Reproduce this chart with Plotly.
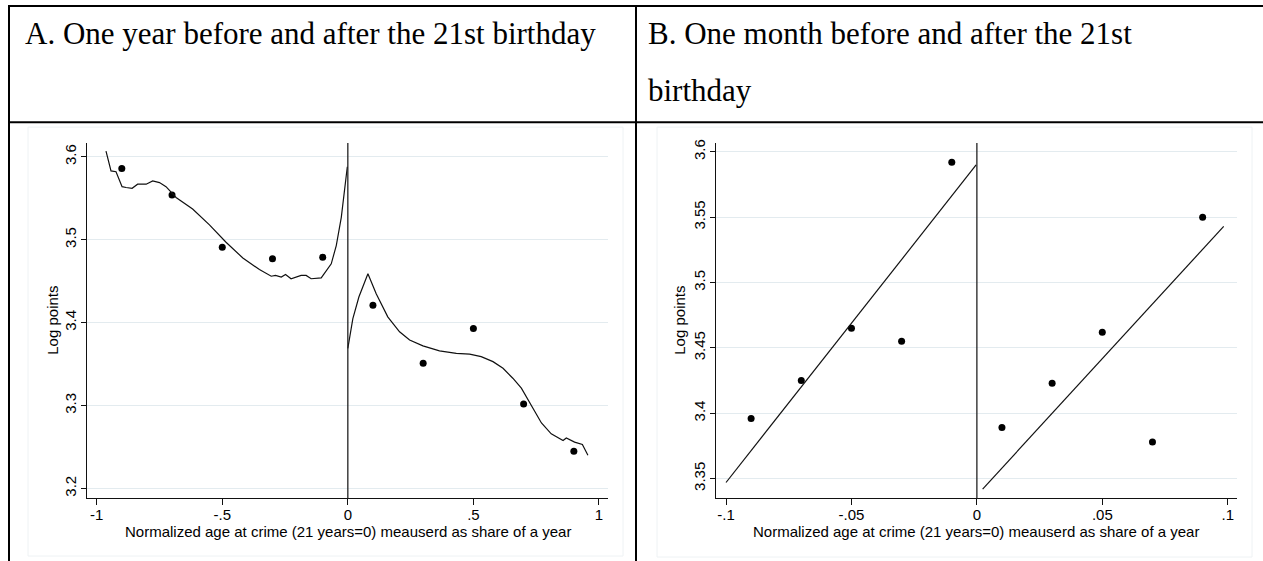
import plotly.graph_objects as go

W, H = 1263, 561

# ---------------- data ----------------
a_bin_x = [-0.9, -0.7, -0.5, -0.3, -0.1, 0.1, 0.3, 0.5, 0.7, 0.9]
a_bin_y = [3.586, 3.554, 3.491, 3.477, 3.479, 3.421, 3.351, 3.393, 3.302, 3.245]

a_fit_left_x = [-0.963, -0.943, -0.923, -0.899, -0.883, -0.859, -0.837, -0.803, -0.777, -0.750,
                -0.724, -0.704, -0.684, -0.618, -0.551, -0.485, -0.418, -0.352, -0.305, -0.288,
                -0.265, -0.248, -0.226, -0.186, -0.166, -0.146, -0.106, -0.066, -0.046, -0.026,
                -0.013, -0.002]
a_fit_left_y = [3.607, 3.583, 3.582, 3.564, 3.563, 3.562, 3.567, 3.567, 3.571, 3.569,
                3.564, 3.557, 3.551, 3.537, 3.518, 3.497, 3.478, 3.464, 3.456, 3.457,
                3.455, 3.458, 3.453, 3.457, 3.457, 3.453, 3.454, 3.471, 3.493, 3.527,
                3.559, 3.588]
a_fit_right_x = [0.0, 0.020, 0.044, 0.080, 0.113, 0.159, 0.206, 0.246, 0.299, 0.365,
                 0.432, 0.485, 0.531, 0.578, 0.618, 0.657, 0.691, 0.724, 0.771, 0.810,
                 0.857, 0.870, 0.903, 0.934, 0.956]
a_fit_right_y = [3.369, 3.405, 3.431, 3.459, 3.435, 3.407, 3.389, 3.379, 3.372, 3.366,
                 3.363, 3.362, 3.359, 3.353, 3.345, 3.333, 3.321, 3.303, 3.279, 3.266,
                 3.258, 3.261, 3.256, 3.253, 3.240]

b_bin_x = [-0.09, -0.07, -0.05, -0.03, -0.01, 0.01, 0.03, 0.05, 0.07, 0.09]
b_bin_y = [3.396, 3.425, 3.465, 3.455, 3.592, 3.389, 3.423, 3.462, 3.378, 3.550]
b_fit_left_x = [-0.100, -0.0003]
b_fit_left_y = [3.347, 3.590]
b_fit_right_x = [0.0023, 0.0984]
b_fit_right_y = [3.342, 3.543]

a_xticks = [-1, -0.5, 0, 0.5, 1]
a_xticktext = ["-1", "-.5", "0", ".5", "1"]
a_yticks = [3.2, 3.3, 3.4, 3.5, 3.6]
a_yticktext = ["3.2", "3.3", "3.4", "3.5", "3.6"]
b_xticks = [-0.1, -0.05, 0, 0.05, 0.1]
b_xticktext = ["-.1", "-.05", "0", ".05", ".1"]
b_yticks = [3.35, 3.4, 3.45, 3.5, 3.55, 3.6]
b_yticktext = ["3.35", "3.4", "3.45", "3.5", "3.55", "3.6"]

title_a = "A. One year before and after the 21st birthday"
title_b1 = "B. One month before and after the 21st"
title_b2 = "birthday"
x_title = "Normalized age at crime (21 years=0) meauserd as share of a year"
y_title = "Log points"

# ---------------- layout helpers ----------------
def px(x):
    return x / W

def py(y):
    return 1 - y / H

SANS = "Liberation Sans, Arial, sans-serif"
SERIF = "Liberation Serif, Times New Roman, serif"
GRID = "#e3ebef"
INK = "#111111"

fig = go.Figure()

def add_panel(xa, ya, bx, by, lx, ly, rx, ry):
    fig.add_trace(go.Scatter(x=bx, y=by, mode="markers", xaxis=xa, yaxis=ya,
                             marker=dict(color="black", size=7), showlegend=False))
    fig.add_trace(go.Scatter(x=lx, y=ly, mode="lines", xaxis=xa, yaxis=ya,
                             line=dict(color=INK, width=1.2), showlegend=False))
    fig.add_trace(go.Scatter(x=rx, y=ry, mode="lines", xaxis=xa, yaxis=ya,
                             line=dict(color=INK, width=1.2), showlegend=False))

add_panel("x", "y", a_bin_x, a_bin_y, a_fit_left_x, a_fit_left_y, a_fit_right_x, a_fit_right_y)
add_panel("x2", "y2", b_bin_x, b_bin_y, b_fit_left_x, b_fit_left_y, b_fit_right_x, b_fit_right_y)

top_px, bot_px = 140, 498
ydom = [py(bot_px), py(top_px)]

def xaxis_cfg(dom, rng, tv, tt):
    return dict(domain=dom, range=rng, tickvals=tv, ticktext=tt, showgrid=False, zeroline=False,
                showline=True, linecolor=INK, linewidth=1, ticks="outside", ticklen=6,
                tickcolor=INK, tickwidth=1, tickfont=dict(family=SANS, size=15, color="black"),
                ticklabelstandoff=-3, fixedrange=True)

def yaxis_cfg(dom, rng, tv, tt, anchor):
    return dict(domain=dom, range=rng, tickvals=tv, ticktext=tt, showgrid=True, gridcolor=GRID,
                gridwidth=1, zeroline=False, showline=True, linecolor=INK, linewidth=1,
                ticks="outside", ticklen=5, tickcolor=INK, tickwidth=1, tickangle=-90,
                tickfont=dict(family=SANS, size=15, color="black"), ticklabelstandoff=-1,
                anchor=anchor, fixedrange=True)

fig.update_layout(
    width=W, height=H, margin=dict(l=0, r=0, t=0, b=0),
    paper_bgcolor="white", plot_bgcolor="white",
    xaxis=xaxis_cfg([px(87), px(608)], [-1.0386, 1.036], a_xticks, a_xticktext),
    yaxis=yaxis_cfg(ydom, [3.188, 3.6167], a_yticks, a_yticktext, "x"),
    xaxis2=dict(xaxis_cfg([px(716), px(1237)], [-0.104, 0.1037], b_xticks, b_xticktext), anchor="y2"),
    yaxis2=yaxis_cfg(ydom, [3.3348, 3.6068], b_yticks, b_yticktext, "x2"),
)
fig.layout.xaxis.anchor = "y"

shapes = []
# zero lines
for xr, yr in (("x", "y domain"), ("x2", "y2 domain")):
    shapes.append(dict(type="line", xref=xr, yref=yr, x0=0, x1=0, y0=0, y1=1,
                       line=dict(color="#222222", width=1.3), layer="above"))
# faint graph region outlines
for (x0, y0, x1, y1) in ((28, 124, 623, 556), (657, 124, 1252, 557)):
    shapes.append(dict(type="rect", xref="paper", yref="paper", x0=px(x0), x1=px(x1),
                       y0=py(y1), y1=py(y0), line=dict(color="#eef2f4", width=1), layer="below"))
# table borders
def hline(y, x0, x1):
    shapes.append(dict(type="line", xref="paper", yref="paper", x0=px(x0), x1=px(x1),
                       y0=py(y), y1=py(y), line=dict(color="black", width=2)))
def vline(x, y0, y1):
    shapes.append(dict(type="line", xref="paper", yref="paper", x0=px(x), x1=px(x),
                       y0=py(y0), y1=py(y1), line=dict(color="black", width=2)))
hline(2, 8, 1263)
hline(119, 8, 1263)
vline(9, 1, 561)
vline(636, 1, 561)
fig.update_layout(shapes=shapes)

ann = []
ann.append(dict(text=title_a, x=px(23), y=py(30), xref="paper", yref="paper", xanchor="left",
                yanchor="middle", showarrow=False, font=dict(family=SERIF, size=31, color="black")))
ann.append(dict(text=title_b1, x=px(646), y=py(30), xref="paper", yref="paper", xanchor="left",
                yanchor="middle", showarrow=False, font=dict(family=SERIF, size=31, color="black")))
ann.append(dict(text=title_b2, x=px(646), y=py(87), xref="paper", yref="paper", xanchor="left",
                yanchor="middle", showarrow=False, font=dict(family=SERIF, size=31, color="black")))
for cx, cy in ((347.5, 531), (976, 531)):
    ann.append(dict(text=x_title, x=px(cx), y=py(cy), xref="paper", yref="paper", xanchor="center",
                    yanchor="middle", showarrow=False, font=dict(family=SANS, size=15, color="black")))
for cx in (53, 680):
    ann.append(dict(text=y_title, x=px(cx), y=py(319), xref="paper", yref="paper", xanchor="center",
                    yanchor="middle", textangle=-90, showarrow=False,
                    font=dict(family=SANS, size=15, color="black")))
fig.update_layout(annotations=ann)

fig.write_html("out.html")
